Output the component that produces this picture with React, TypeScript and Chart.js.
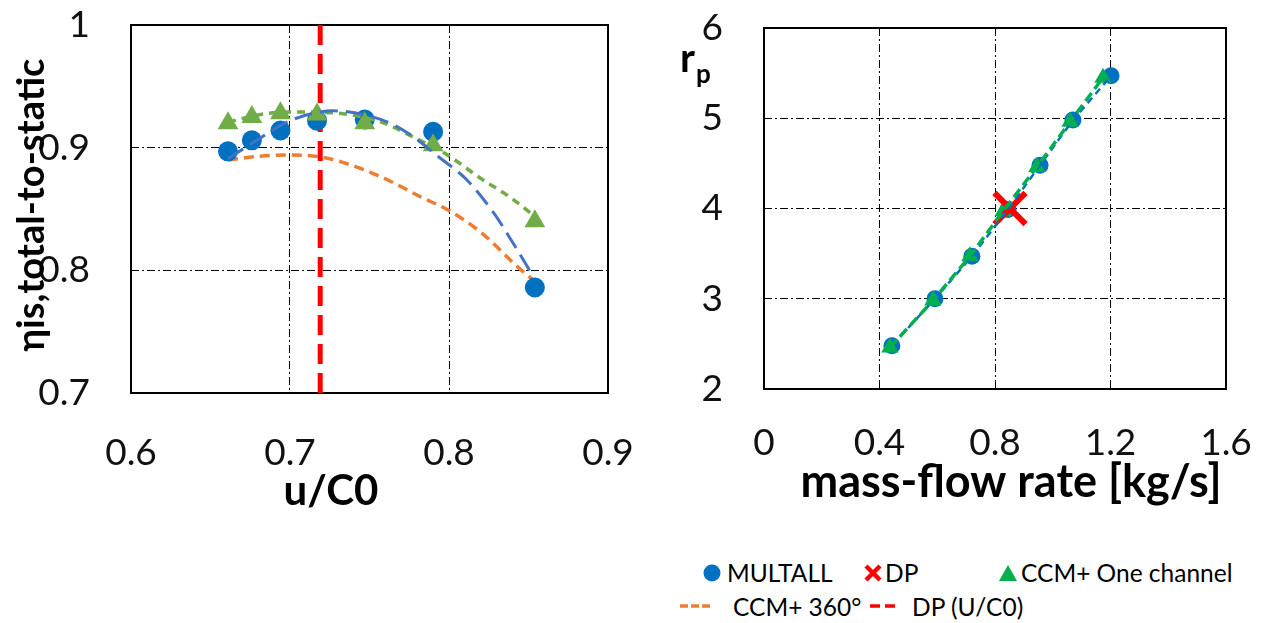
import React, { useEffect, useRef } from "react";
import { Chart, registerables } from "chart.js";
Chart.register(...registerables);

// ---------- Left chart: efficiency vs u/C0 ----------
const uC0Points = [0.661, 0.676, 0.694, 0.717, 0.747, 0.79, 0.854];
const multallEff = [0.897, 0.906, 0.914, 0.922, 0.923, 0.913, 0.786];
const ccmOneEff = [0.92, 0.925, 0.928, 0.927, 0.92, 0.902, 0.84];

const multallTrendX = [0.661, 0.679, 0.7, 0.727, 0.757, 0.774, 0.794, 0.811, 0.828, 0.838, 0.853];
const multallTrendY = [0.891, 0.906, 0.922, 0.93, 0.923, 0.912, 0.892, 0.874, 0.847, 0.827, 0.795];

const ccmOneTrendX = [0.661, 0.686, 0.706, 0.731, 0.757, 0.777, 0.799, 0.821, 0.838, 0.855];
const ccmOneTrendY = [0.921, 0.928, 0.929, 0.928, 0.921, 0.909, 0.894, 0.874, 0.86, 0.843];

const ccm360TrendX = [0.661, 0.681, 0.7, 0.721, 0.738, 0.761, 0.782, 0.801, 0.821, 0.843, 0.853];
const ccm360TrendY = [0.89, 0.893, 0.894, 0.892, 0.886, 0.874, 0.86, 0.848, 0.83, 0.803, 0.792];

const dpUC0X = [0.719, 0.719];
const dpUC0Y = [0.7, 1.0];

const leftXTicks = [0.6, 0.7, 0.8, 0.9];
const leftXTickLabels = ["0.6", "0.7", "0.8", "0.9"];
const leftYTicks = [0.7, 0.8, 0.9, 1.0];
const leftYTickLabels = ["0.7", "0.8", "0.9", "1"];

// ---------- Right chart: pressure ratio vs mass-flow rate ----------
const mfrMultall = [0.443, 0.592, 0.72, 0.845, 0.956, 1.07, 1.202];
const rpMultall = [2.48, 3.0, 3.47, 3.99, 4.48, 4.98, 5.47];
const mfrCcmOne = [0.436, 0.585, 0.713, 0.828, 0.945, 1.06, 1.174];
const rpCcmOne = [2.46, 2.98, 3.47, 3.97, 4.46, 4.96, 5.45];
const dpMfr = [0.852];
const dpRp = [4.0];

const rightXTicks = [0, 0.4, 0.8, 1.2, 1.6];
const rightXTickLabels = ["0", "0.4", "0.8", "1.2", "1.6"];
const rightYTicks = [2, 3, 4, 5, 6];
const rightYTickLabels = ["2", "3", "4", "5", "6"];

const seriesLabels = ["MULTALL", "DP", "CCM+ One channel", "CCM+ 360°", "DP (U/C0)"];
const leftXTitle = "u/C0";
const leftYTitle = "ηis,total-to-static";
const rightXTitle = "mass-flow rate [kg/s]";
const rightYTitleMain = "r";
const rightYTitleSub = "p";

const FONT = "Lato";
const pts = (xs: number[], ys: number[]) => xs.map((x, i) => ({ x, y: ys[i] }));

type TextItem = { text: string; x: number; y: number; font: string; align?: CanvasTextAlign; baseline?: CanvasTextBaseline; rotation?: number };

function makeTextPlugin(items: TextItem[]) {
  return {
    id: "freeText",
    afterDraw(chart: any) {
      const ctx = chart.ctx;
      for (const t of items) {
        ctx.save();
        ctx.font = t.font;
        ctx.fillStyle = "#000";
        ctx.textAlign = t.align || "center";
        ctx.textBaseline = t.baseline || "alphabetic";
        ctx.translate(t.x, t.y);
        if (t.rotation) ctx.rotate(t.rotation);
        ctx.fillText(t.text, 0, 0);
        ctx.restore();
      }
    },
  };
}

const boxPlugin = {
  id: "plotBox",
  beforeDatasetsDraw(chart: any) {
    const { ctx, chartArea } = chart;
    ctx.save();
    ctx.strokeStyle = "#000";
    ctx.lineWidth = 2;
    ctx.setLineDash([]);
    ctx.strokeRect(chartArea.left, chartArea.top, chartArea.right - chartArea.left, chartArea.bottom - chartArea.top);
    ctx.restore();
  },
};

function axis(min: number, max: number, ticks: number[], labels: string[], fitSize: number, horizontal: boolean, padding: number) {
  return {
    type: "linear",
    min,
    max,
    afterBuildTicks: (s: any) => {
      s.ticks = ticks.map((v) => ({ value: v }));
    },
    afterFit: (s: any) => {
      if (horizontal) s.height = fitSize;
      else s.width = fitSize;
      s.paddingTop = 0;
      s.paddingBottom = 0;
      s.paddingLeft = 0;
      s.paddingRight = 0;
    },
    ticks: {
      autoSkip: false,
      maxRotation: 0,
      padding,
      color: "#111",
      font: { family: FONT, size: 37 },
      callback: (_v: any, i: number) => labels[i],
    },
    grid: { color: "#000", lineWidth: 1, drawTicks: false },
    border: { display: false, dash: [8, 3, 2, 3] },
  };
}

function LeftChart() {
  const ref = useRef<HTMLCanvasElement>(null);
  useEffect(() => {
    const chart = new Chart(ref.current!, {
      type: "scatter",
      data: {
        datasets: [
          {
            label: "MULTALL trend",
            data: pts(multallTrendX, multallTrendY),
            showLine: true,
            borderColor: "#4472C4",
            borderWidth: 3,
            borderDash: [18, 8],
            pointRadius: 0,
            cubicInterpolationMode: "monotone",
            order: 1,
          },
          {
            label: "CCM+ One channel trend",
            data: pts(ccmOneTrendX, ccmOneTrendY),
            showLine: true,
            borderColor: "#70AD47",
            borderWidth: 3.5,
            borderDash: [8, 6],
            pointRadius: 0,
            cubicInterpolationMode: "monotone",
            order: 2,
          },
          {
            label: seriesLabels[2],
            data: pts(uC0Points, ccmOneEff),
            pointStyle: "triangle",
            pointRadius: 12,
            backgroundColor: "#70AD47",
            borderColor: "#70AD47",
            borderWidth: 0,
            order: 3,
          },
          {
            label: seriesLabels[0],
            data: pts(uC0Points, multallEff),
            pointStyle: "circle",
            pointRadius: 10,
            backgroundColor: "#0070C0",
            borderColor: "#0070C0",
            borderWidth: 0,
            order: 4,
          },
          {
            label: seriesLabels[4],
            data: pts(dpUC0X, dpUC0Y),
            showLine: true,
            borderColor: "#FF0000",
            borderWidth: 5,
            borderDash: [20, 9],
            pointRadius: 0,
            order: 5,
          },
          {
            label: seriesLabels[3],
            data: pts(ccm360TrendX, ccm360TrendY),
            showLine: true,
            borderColor: "#ED7D31",
            borderWidth: 3.5,
            borderDash: [10, 6],
            pointRadius: 0,
            cubicInterpolationMode: "monotone",
            order: 6,
          },
        ],
      },
      options: {
        responsive: false,
        animation: false,
        layout: { padding: { left: 0, top: 25, right: 32, bottom: 0 } },
        plugins: { legend: { display: false }, tooltip: { enabled: false } },
        scales: {
          x: axis(0.6, 0.9, leftXTicks, leftXTickLabels, 127, true, 38),
          y: axis(0.7, 1.0, leftYTicks, leftYTickLabels, 131, false, 41),
        },
      } as any,
      plugins: [
        boxPlugin,
        makeTextPlugin([
          { text: leftXTitle, x: 331, y: 505, font: `bold 42px ${FONT}` },
          { text: leftYTitle, x: 32, y: 205, font: `bold 38px ${FONT}`, baseline: "middle", rotation: -Math.PI / 2 },
        ]),
      ],
    });
    return () => chart.destroy();
  }, []);
  return <canvas ref={ref} width={640} height={520} style={{ position: "absolute", left: 0, top: 0 }} />;
}

function RightChart() {
  const ref = useRef<HTMLCanvasElement>(null);
  useEffect(() => {
    const chart = new Chart(ref.current!, {
      type: "scatter",
      data: {
        datasets: [
          {
            label: "CCM+ One channel trend",
            data: pts(mfrCcmOne, rpCcmOne),
            showLine: true,
            borderColor: "#00B050",
            borderWidth: 3.5,
            borderDash: [10, 5],
            pointRadius: 0,
            order: 1,
          },
          {
            label: "MULTALL trend",
            data: pts(mfrMultall, rpMultall),
            showLine: true,
            borderColor: "#0070C0",
            borderWidth: 2.5,
            borderDash: [7, 5],
            pointRadius: 0,
            order: 2,
          },
          {
            label: seriesLabels[1],
            data: pts(dpMfr, dpRp),
            pointStyle: "crossRot",
            pointRadius: 22,
            borderColor: "#FF0000",
            borderWidth: 6,
            order: 3,
          },
          {
            label: seriesLabels[2],
            data: pts(mfrCcmOne, rpCcmOne),
            pointStyle: "triangle",
            pointRadius: 10,
            backgroundColor: "#00B050",
            borderColor: "#00B050",
            borderWidth: 0,
            order: 4,
          },
          {
            label: seriesLabels[0],
            data: pts(mfrMultall, rpMultall),
            pointStyle: "circle",
            pointRadius: 8.5,
            backgroundColor: "#0070C0",
            borderColor: "#0070C0",
            borderWidth: 0,
            order: 5,
          },
        ],
      },
      options: {
        responsive: false,
        animation: false,
        layout: { padding: { left: 0, top: 25, right: 37, bottom: 0 } },
        plugins: { legend: { display: false }, tooltip: { enabled: false } },
        scales: {
          x: axis(0, 1.6, rightXTicks, rightXTickLabels, 131, true, 32),
          y: axis(2, 6, rightYTicks, rightYTickLabels, 124, false, 41),
        },
      } as any,
      plugins: [
        boxPlugin,
        makeTextPlugin([
          { text: rightXTitle, x: 371, y: 497, font: `bold 45px ${FONT}` },
          { text: rightYTitleMain, x: 40, y: 72, font: `bold 40px ${FONT}`, align: "left" },
          { text: rightYTitleSub, x: 56, y: 83, font: `bold 26px ${FONT}`, align: "left" },
        ]),
      ],
    });
    return () => chart.destroy();
  }, []);
  return <canvas ref={ref} width={623} height={520} style={{ position: "absolute", left: 640, top: 0 }} />;
}

const legendText: React.CSSProperties = {
  position: "absolute",
  font: `24.5px ${FONT}`,
  color: "#000",
  lineHeight: "34px",
  whiteSpace: "nowrap",
};

function Legend() {
  return (
    <>
      <svg style={{ position: "absolute", left: 703, top: 564 }} width={18} height={18}>
        <circle cx={9} cy={9} r={8.5} fill="#0070C0" />
      </svg>
      <span style={{ ...legendText, left: 727, top: 556 }}>{seriesLabels[0]}</span>
      <svg style={{ position: "absolute", left: 864, top: 564 }} width={18} height={18}>
        <line x1={2} y1={2} x2={16} y2={16} stroke="#FF0000" strokeWidth={4.5} />
        <line x1={16} y1={2} x2={2} y2={16} stroke="#FF0000" strokeWidth={4.5} />
      </svg>
      <span style={{ ...legendText, left: 885, top: 556 }}>{seriesLabels[1]}</span>
      <svg style={{ position: "absolute", left: 999, top: 564 }} width={18} height={18}>
        <polygon points="9,1 18,17 0,17" fill="#00B050" />
      </svg>
      <span style={{ ...legendText, left: 1021, top: 556 }}>{seriesLabels[2]}</span>
      <svg style={{ position: "absolute", left: 678, top: 600 }} width={36} height={12}>
        <line x1={2} y1={6} x2={34} y2={6} stroke="#ED7D31" strokeWidth={3.5} strokeDasharray="8,3" />
      </svg>
      <span style={{ ...legendText, left: 733, top: 590 }}>{seriesLabels[3]}</span>
      <svg style={{ position: "absolute", left: 868, top: 600 }} width={30} height={12}>
        <line x1={2} y1={6} x2={28} y2={6} stroke="#FF0000" strokeWidth={3.5} strokeDasharray="10,5" />
      </svg>
      <span style={{ ...legendText, left: 912, top: 590 }}>{seriesLabels[4]}</span>
    </>
  );
}

export default function App() {
  return (
    <div style={{ position: "fixed", left: 0, top: 0, width: 1263, height: 623, background: "#fff", overflow: "hidden" }}>
      <LeftChart />
      <RightChart />
      <Legend />
    </div>
  );
}
